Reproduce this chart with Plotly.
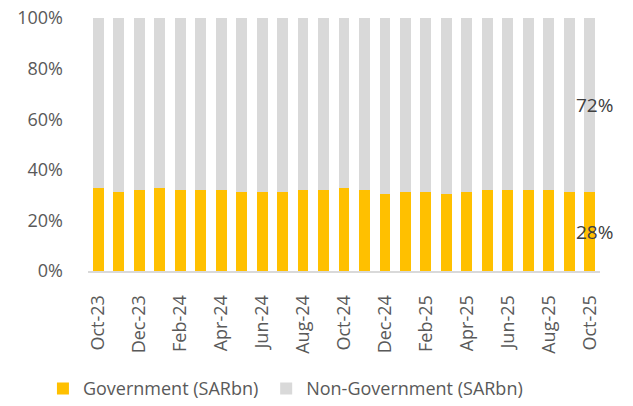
import plotly.graph_objects as go

months = ["Oct-23", "Nov-23", "Dec-23", "Jan-24", "Feb-24", "Mar-24", "Apr-24", "May-24",
          "Jun-24", "Jul-24", "Aug-24", "Sep-24", "Oct-24", "Nov-24", "Dec-24", "Jan-25",
          "Feb-25", "Mar-25", "Apr-25", "May-25", "Jun-25", "Jul-25", "Aug-25", "Sep-25", "Oct-25"]
gov = [32.7, 31.1, 31.9, 32.7, 31.9, 31.9, 31.9, 31.1, 31.1, 31.1, 31.9, 31.9, 32.7,
       31.9, 30.3, 31.1, 31.1, 30.3, 31.1, 31.9, 31.9, 31.9, 31.9, 31.1, 31.1]
nongov = [67.3, 68.9, 68.1, 67.3, 68.1, 68.1, 68.1, 68.9, 68.9, 68.9, 68.1, 68.1, 67.3,
          68.1, 69.7, 68.9, 68.9, 69.7, 68.9, 68.1, 68.1, 68.1, 68.1, 68.9, 68.9]
last_labels = ["28%", "72%"]
tick_months = months[::2]
yticks = [0, 20, 40, 60, 80, 100]

font_family = "'Open Sans', sans-serif"
txt_color = "#595959"

fig = go.Figure()
fig.add_trace(go.Bar(x=months, y=gov, name="Government (SARbn)", marker_color="#FFC000",
                     marker_line_width=0, legend="legend"))
fig.add_trace(go.Bar(x=months, y=nongov, name="Non-Government (SARbn)", marker_color="#D9D9D9",
                     marker_line_width=0, legend="legend2"))

# data labels on the last bar (centre of each segment)
fig.add_annotation(x=months[-1], y=gov[-1] / 2, text=last_labels[0], showarrow=False,
                   xshift=5, font=dict(size=19, color="#404040", family=font_family))
fig.add_annotation(x=months[-1], y=gov[-1] + nongov[-1] / 2, text=last_labels[1],
                   showarrow=False, xshift=5,
                   font=dict(size=19, color="#404040", family=font_family))

leg_common = dict(orientation="h", y=-0.392, yanchor="top", xanchor="left",
                  font=dict(size=18, color=txt_color), itemwidth=30,
                  bgcolor="rgba(0,0,0,0)")

fig.update_layout(
    barmode="stack",
    bargap=0.47,
    width=633, height=406,
    margin=dict(l=88, r=33, t=18, b=135, autoexpand=False),
    plot_bgcolor="white", paper_bgcolor="white",
    font=dict(family=font_family, size=18, color=txt_color),
    showlegend=True,
    legend=dict(x=-0.088, **leg_common),
    legend2=dict(x=0.348, **leg_common),
)
fig.update_xaxes(
    type="category", automargin=False, range=[-0.5, len(months) - 0.5],
    tickmode="array", tickvals=tick_months, ticktext=tick_months,
    tickangle=-90, showline=True, linecolor="#D9D9D9", linewidth=2,
    ticks="outside", ticklen=15, tickcolor="rgba(0,0,0,0)", showgrid=False,
    tickfont=dict(size=18, color=txt_color),
)
fig.update_yaxes(
    range=[0, 100], tickmode="array", tickvals=yticks, automargin=False,
    ticktext=[f"{v}%" for v in yticks], showgrid=False, zeroline=False,
    showline=False, ticks="", ticklabelstandoff=24,
    tickfont=dict(size=18, color=txt_color),
)
fig.write_html("out.html")
